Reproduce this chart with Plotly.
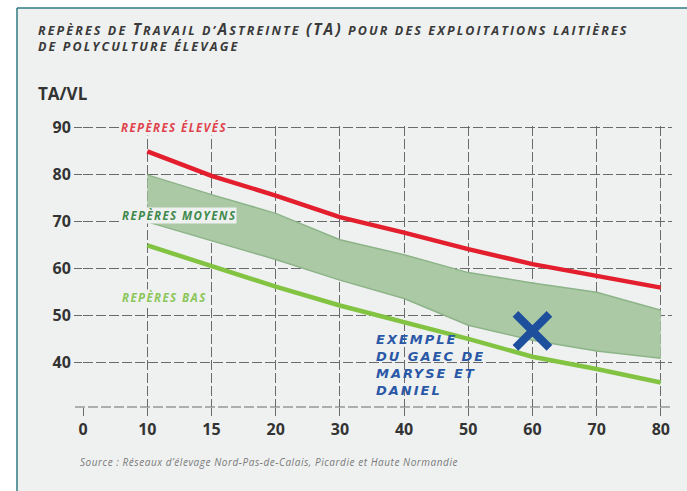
import plotly.graph_objects as go

categories = ["0", "10", "15", "20", "30", "40", "50", "60", "70", "80"]
series_x = ["10", "15", "20", "30", "40", "50", "60", "70", "80"]
reperes_eleves = [85, 79.8, 75.6, 71, 67.7, 64.2, 61, 58.6, 56]
reperes_moyens_haut = [80, 75.8, 71.8, 66.2, 63, 59.2, 57, 55, 51.2]
reperes_moyens_bas = [70, 66, 62, 57.6, 53.7, 48, 44.8, 42.5, 41]
reperes_bas = [65, 60.5, 56.2, 52.2, 48.7, 45.1, 41.3, 38.7, 35.8]
exemple_x = ["60"]
exemple_y = [46.8]
y_ticks = [40, 50, 60, 70, 80, 90]

W, H = 687, 491
L, R, T, B = 83, 15, 126, 84
PW, PH = W - L - R, H - T - B


def px(x):
    return (x - L) / PW


def py(y):
    return (H - B - y) / PH


idx = {c: i for i, c in enumerate(categories)}
sx = [idx[c] for c in series_x]

BG = "#eff1f1"
FONT = "Open Sans"
WIDE = "DejaVu Sans"
GRID = "#6a6a6a"
DASH = "10px,3px"

fig = go.Figure()
fig.add_trace(go.Scatter(x=sx, y=reperes_moyens_bas, mode="lines",
                         line=dict(color="#8db489", width=1.5),
                         hoverinfo="skip", showlegend=False))
fig.add_trace(go.Scatter(x=sx, y=reperes_moyens_haut, mode="lines", fill="tonexty",
                         fillcolor="#abc9a4",
                         line=dict(color="#8db489", width=1.5),
                         hoverinfo="skip", showlegend=False))
fig.add_trace(go.Scatter(x=sx, y=reperes_eleves, mode="lines",
                         line=dict(color="#e31e2d", width=4.5),
                         showlegend=False))
fig.add_trace(go.Scatter(x=sx, y=reperes_bas, mode="lines",
                         line=dict(color="#82c341", width=4.5),
                         showlegend=False))
fig.add_trace(go.Scatter(x=[idx[c] for c in exemple_x], y=exemple_y, mode="markers",
                         marker=dict(symbol="x-thin", size=34,
                                     line=dict(color="#1d4f9c", width=8)),
                         showlegend=False))

grid = dict(showgrid=True, gridcolor=GRID, gridwidth=1, griddash=DASH,
            zeroline=False)
tickfont = dict(family=FONT, size=16, color="#333333")
fig.update_xaxes(range=[-0.002, (672 - L) / 64.2], tickvals=list(range(len(categories))),
                 ticktext=["<b>%s</b>" % c for c in categories],
                 showline=False,
                 ticks="outside", ticklen=8, tickcolor=GRID,
                 tickfont=tickfont, **grid)
fig.update_yaxes(range=[30.6, 90.4], tickvals=y_ticks,
                 ticktext=["<b>%d</b>" % v for v in y_ticks], showline=False,
                 ticks="outside", ticklen=8, tickcolor=GRID,
                 tickfont=tickfont, **grid)

big = "font-size:15.5px"
title1 = ("REPÈRES DE <span style='%s'>T</span>RAVAIL D’<span style='%s'>A</span>STREINTE "
          "<span style='%s'>(TA)</span> POUR DES EXPLOITATIONS LAITIÈRES") % (big, big, big)
title2 = "DE POLYCULTURE ÉLEVAGE"

ann = []


def add_text(text, x, y, size, color, xanchor="left", bold=True, italic=True, bg=None,
             family=FONT, spacing=None):
    if spacing is not None:
        text = "<span style='letter-spacing:%.2fpx'>%s</span>" % (spacing, text)
    ann.append(dict(text=text, x=px(x), y=py(y), xref="paper", yref="paper",
                    xanchor=xanchor, yanchor="middle", showarrow=False, align="left",
                    bgcolor=bg, borderpad=0,
                    font=dict(family=family, size=size, color=color,
                              weight="bold" if bold else "normal",
                              style="italic" if italic else "normal")))


add_text(title1, 37, 29, 12.5, "#3a3a3a", spacing=2.1)
add_text(title2, 37, 47, 12.5, "#3a3a3a", spacing=2.1)
add_text("TA/VL", 37, 93, 17, "#333333", italic=False)
add_text("REPÈRES ÉLEVÉS", 120, 127, 11.5, "#e0434c", bg=BG, spacing=1.4)
add_text("REPÈRES MOYENS", 121, 215, 11.5, "#3f8a4c", bg=BG, spacing=1.4)
add_text("REPÈRES BAS", 121, 297, 11.5, "#8cc65a", bg=BG, spacing=1.4)
ann.append(dict(text="<span style='letter-spacing:2px'>EXEMPLE<br>DU GAEC DE<br>MARYSE ET<br>DANIEL</span>",
                x=px(374), y=py(330), xref="paper", yref="paper",
                xanchor="left", yanchor="top", showarrow=False, align="left",
                font=dict(family=WIDE, size=13, color="#2a58a6", weight="bold",
                          style="italic")))
add_text("Source : Réseaux d’élevage Nord-Pas-de-Calais, Picardie et Haute Normandie",
         79, 462, 10, "#7a7a7a", bold=False, spacing=0.55)

shapes = [
    dict(type="rect", xref="paper", yref="paper", x0=px(-5), x1=px(17), y0=py(-5),
         y1=py(500), fillcolor="white", line=dict(width=0), layer="below"),
    dict(type="rect", xref="paper", yref="paper", x0=px(-5), x1=px(700), y0=py(-5),
         y1=py(8), fillcolor="white", line=dict(width=0), layer="below"),
    dict(type="line", xref="paper", yref="paper", x0=px(17), x1=px(17), y0=py(8),
         y1=py(500), line=dict(color="#2f7b80", width=1.5)),
    dict(type="line", xref="paper", yref="paper", x0=px(17), x1=px(700), y0=py(8),
         y1=py(8), line=dict(color="#2f7b80", width=1.5)),
    # dashed bottom axis line
    dict(type="line", xref="paper", yref="paper", x0=px(75), x1=1, y0=0, y1=0,
         line=dict(color=GRID, width=1, dash=DASH)),
]

fig.update_layout(width=W, height=H, autosize=False,
                  margin=dict(l=L, r=R, t=T, b=B),
                  paper_bgcolor=BG, plot_bgcolor=BG,
                  annotations=ann, shapes=shapes, showlegend=False)

fig.write_html("out.html", config={"displayModeBar": False},
               post_script="document.body.style.margin='0';")
